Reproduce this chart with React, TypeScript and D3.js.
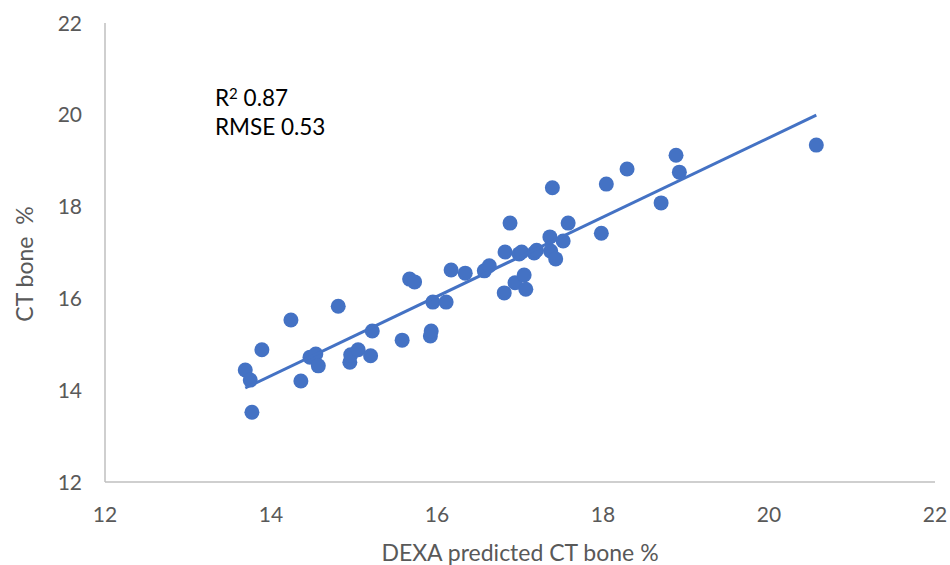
import React, { useEffect } from "react";
import * as d3 from "d3";

const dexaPredicted: number[] = [
  13.69, 13.75, 13.77, 13.89, 14.24, 14.36, 14.47, 14.54, 14.57, 14.81,
  14.95, 14.96, 15.05, 15.2, 15.22, 15.58, 15.67, 15.73, 15.92, 15.93,
  15.95, 16.11, 16.17, 16.34, 16.57, 16.63, 16.81, 16.82, 16.88, 16.94,
  16.99, 17.02, 17.05, 17.07, 17.17, 17.2, 17.36, 17.37, 17.39, 17.43,
  17.52, 17.58, 17.98, 18.04, 18.29, 18.7, 18.88, 18.92, 20.57,
];
const ctBone: number[] = [
  14.44, 14.22, 13.52, 14.88, 15.53, 14.2, 14.72, 14.79, 14.53, 15.83,
  14.61, 14.77, 14.88, 14.75, 15.29, 15.09, 16.42, 16.36, 15.18, 15.29,
  15.92, 15.92, 16.62, 16.55, 16.6, 16.71, 16.12, 17.01, 17.64, 16.34,
  16.97, 17.01, 16.51, 16.2, 16.99, 17.05, 17.34, 17.03, 18.41, 16.86,
  17.25, 17.64, 17.42, 18.49, 18.82, 18.08, 19.12, 18.75, 19.34,
];
const xTicks: number[] = [12, 14, 16, 18, 20, 22];
const yTicks: number[] = [12, 14, 16, 18, 20, 22];
const statsLines: string[] = ["0.87", "0.53"];

const W = 950;
const H = 565;
const left = 105;
const right = 935;
const top = 23;
const bottom = 482;
const FONT = "Lato, 'Open Sans', sans-serif";
const BLUE = "#4472C4";

export default function App() {
  useEffect(() => {
    document.body.style.margin = "0";
  }, []);
  const x = d3.scaleLinear().domain([12, 22]).range([left, right]);
  const y = d3.scaleLinear().domain([12, 22]).range([bottom, top]);

  const n = dexaPredicted.length;
  const mx = d3.mean(dexaPredicted) as number;
  const my = d3.mean(ctBone) as number;
  let sxy = 0, sxx = 0;
  for (let i = 0; i < n; i++) {
    sxy += (dexaPredicted[i] - mx) * (ctBone[i] - my);
    sxx += (dexaPredicted[i] - mx) ** 2;
  }
  const slope = sxy / sxx;
  const icpt = my - slope * mx;
  const [x0, x1] = d3.extent(dexaPredicted) as [number, number];
  const linePath = d3.line<number>()
    .x((d) => x(d))
    .y((d) => y(icpt + slope * d))([x0, x1]);

  return (
    <svg width={W} height={H} style={{ display: "block", background: "#fff" }}>
      <line x1={left} x2={left} y1={top} y2={bottom} stroke="#bfbfbf" strokeWidth={1.5} />
      <line x1={left} x2={right} y1={bottom} y2={bottom} stroke="#bfbfbf" strokeWidth={1.5} />
      {yTicks.map((t) => (
        <text key={"y" + t} x={82} y={y(t)} dy="0.36em" textAnchor="end"
          fontFamily={FONT} fontSize={21} fill="#595959">{t}</text>
      ))}
      {xTicks.map((t) => (
        <text key={"x" + t} x={x(t)} y={522} textAnchor="middle"
          fontFamily={FONT} fontSize={21} fill="#595959">{t}</text>
      ))}
      <text x={520} y={561} textAnchor="middle" fontFamily={FONT} fontSize={23} fill="#595959">
        DEXA predicted CT bone %
      </text>
      <text transform={`translate(33,264) rotate(-90)`} textAnchor="middle"
        fontFamily={FONT} fontSize={23} fill="#595959" style={{ whiteSpace: "pre" }}>
        CT bone  %
      </text>
      {dexaPredicted.map((d, i) => (
        <circle key={i} cx={x(d)} cy={y(ctBone[i])} r={7.5} fill={BLUE} />
      ))}
      <path d={linePath || ""} stroke={BLUE} strokeWidth={3} fill="none" />
      <text x={215} y={106} fontFamily={FONT} fontSize={22.5} fill="#000">
        R<tspan fontSize={15} dy={-7}>2</tspan><tspan dy={7}> {statsLines[0]}</tspan>
      </text>
      <text x={215} y={135} fontFamily={FONT} fontSize={22.5} fill="#000">
        RMSE {statsLines[1]}
      </text>
    </svg>
  );
}
